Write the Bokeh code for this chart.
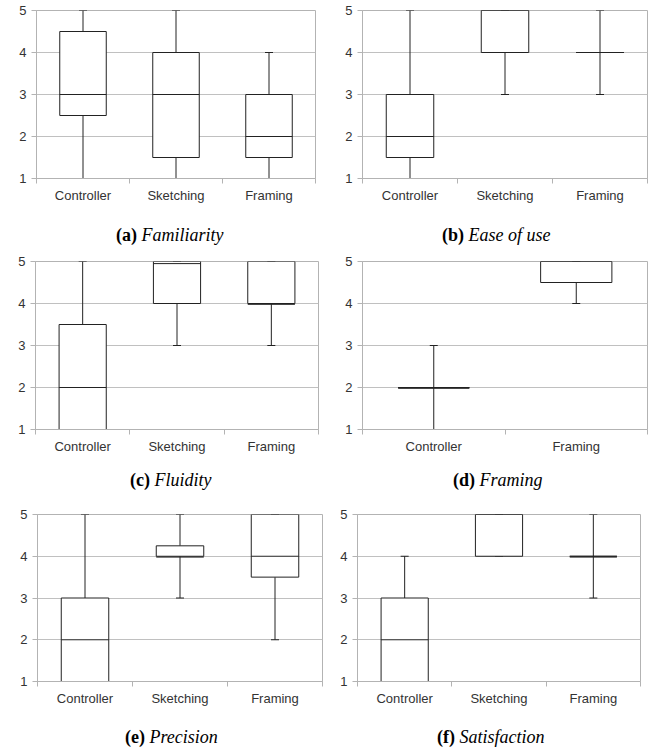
from bokeh.plotting import figure
from bokeh.layouts import column, row
from bokeh.models import ColumnDataSource, Range1d, FixedTicker, Div
from bokeh.transform import dodge
from bokeh.embed import file_html
from bokeh.resources import INLINE

# ---------------- data ----------------
likert_ticks = [1, 2, 3, 4, 5]
cats3 = ["Controller", "Sketching", "Framing"]
cats2 = ["Controller", "Framing"]

# (a) Familiarity
fam_lo = [1, 1, 1]
fam_q1 = [2.5, 1.5, 1.5]
fam_med = [3, 3, 2]
fam_q3 = [4.5, 4, 3]
fam_hi = [5, 5, 4]

# (b) Ease of use
ease_lo = [1, 3, 3]
ease_q1 = [1.5, 4, 4]
ease_med = [2, 5, 4]
ease_q3 = [3, 5, 4]
ease_hi = [5, 5, 5]

# (c) Fluidity
flu_lo = [1, 3, 3]
flu_q1 = [1, 4, 4]
flu_med = [2, 4.95, 3.98]
flu_q3 = [3.5, 5, 5]
flu_hi = [5, 5, 5]

# (d) Framing
fra_lo = [1, 4]
fra_q1 = [2, 4.5]
fra_med = [1.98, 5]
fra_q3 = [2, 5]
fra_hi = [3, 5]

# (e) Precision
pre_lo = [1, 3, 2]
pre_q1 = [1, 4, 3.5]
pre_med = [2, 3.98, 4]
pre_q3 = [3, 4.25, 5]
pre_hi = [5, 5, 5]

# (f) Satisfaction
sat_lo = [1, 4, 3]
sat_q1 = [1, 4, 4]
sat_med = [2, 5, 3.98]
sat_q3 = [3, 5, 4]
sat_hi = [4, 5, 5]

# ---------------- style ----------------
LINE = "#222222"
GRID = "#c0c0c0"
AXIS = "#b3b3b3"
SANS = "Liberation Sans"
SERIF = "Liberation Serif"
LABEL_COLOR = "#333333"
FIG_H = 215


def panel(cats, lo, q1, med, q3, hi, letter, name,
          left, fw, right, top, fh, cap_h, cap_top, cap_left):
    n = len(cats)
    w = left + fw + right
    y0, y1 = likert_ticks[0], likert_ticks[-1]
    centers = [i + 0.5 for i in range(n)]
    edges = list(range(n + 1))
    p = figure(width=w, height=FIG_H, x_range=Range1d(0, n),
               y_range=Range1d(y0, y1),
               toolbar_location=None, output_backend="svg",
               min_border_left=left, min_border_right=right,
               min_border_top=top, min_border_bottom=FIG_H - top - fh,
               outline_line_color=AXIS, background_fill_color="white",
               border_fill_color="white")
    p.xgrid.grid_line_color = None
    p.ygrid.grid_line_color = GRID
    p.ygrid.ticker = FixedTicker(ticks=likert_ticks)

    ya = p.yaxis[0]
    ya.ticker = FixedTicker(ticks=likert_ticks)
    ya.axis_line_color = AXIS
    ya.major_tick_line_color = AXIS
    ya.major_tick_out = 5
    ya.major_tick_in = 0
    ya.minor_tick_line_color = None
    ya.major_label_standoff = 5
    ya.major_label_text_font = SANS
    ya.major_label_text_font_size = "13px"
    ya.major_label_text_color = LABEL_COLOR

    xa = p.xaxis[0]
    xa.ticker = FixedTicker(ticks=centers, minor_ticks=edges)
    xa.major_label_overrides = {c: cat for c, cat in zip(centers, cats)}
    xa.axis_line_color = AXIS
    xa.major_tick_line_color = None
    xa.major_tick_out = 0
    xa.major_tick_in = 0
    xa.minor_tick_line_color = AXIS
    xa.minor_tick_out = 5
    xa.minor_tick_in = 0
    xa.major_label_standoff = 4
    xa.major_label_text_font = SANS
    xa.major_label_text_font_size = "13px"
    xa.major_label_text_color = LABEL_COLOR

    src = ColumnDataSource(dict(x=centers, lo=lo, q1=q1, med=med, q3=q3, hi=hi))
    p.segment(x0="x", y0="lo", x1="x", y1="q1", source=src,
              line_color=LINE, line_width=1)
    p.segment(x0="x", y0="q3", x1="x", y1="hi", source=src,
              line_color=LINE, line_width=1)
    p.scatter(x="x", y="lo", marker="dash", size=8, source=src,
              line_color=LINE, line_width=1)
    p.scatter(x="x", y="hi", marker="dash", size=8, source=src,
              line_color=LINE, line_width=1)
    p.vbar(x="x", width=0.5, bottom="q1", top="q3", source=src,
           fill_color="white", line_color=LINE, line_width=1)
    p.segment(x0=dodge("x", -0.25), y0="med", x1=dodge("x", 0.25), y1="med",
              source=src, line_color=LINE, line_width=1)

    html = ('<div style="margin-top:%dpx; padding-left:%dpx; line-height:20px; '
            'white-space:nowrap; font-family:\'%s\'; font-size:18px; color:black;">'
            '<b>(%s)</b> <i>%s</i></div>') % (cap_top, cap_left, SERIF, letter, name)
    cap = Div(text=html, width=w, height=cap_h, margin=0)
    return column(p, cap, spacing=0)


pa = panel(cats3, fam_lo, fam_q1, fam_med, fam_q3, fam_hi, "a", "Familiarity",
           36, 279, 10, 10, 168, 35, 10, 116)
pb = panel(cats3, ease_lo, ease_q1, ease_med, ease_q3, ease_hi, "b", "Ease of use",
           37, 285, 3, 10, 168, 35, 10, 117)
pc = panel(cats3, flu_lo, flu_q1, flu_med, flu_q3, flu_hi, "c", "Fluidity",
           35, 283, 7, 11, 168, 35, 5, 130)
pd = panel(cats2, fra_lo, fra_q1, fra_med, fra_q3, fra_hi, "d", "Framing",
           37, 285, 3, 11, 168, 35, 5, 128)
pe = panel(cats3, pre_lo, pre_q1, pre_med, pre_q3, pre_hi, "e", "Precision",
           37, 285, 3, 14, 167, 33, 12, 125)
pf = panel(cats3, sat_lo, sat_q1, sat_med, sat_q3, sat_hi, "f", "Satisfaction",
           32, 283, 10, 14, 167, 33, 12, 112)

layout = column(row(pa, pb), row(pc, pd), row(pe, pf))

open("out.html", "w").write(file_html(layout, INLINE))
